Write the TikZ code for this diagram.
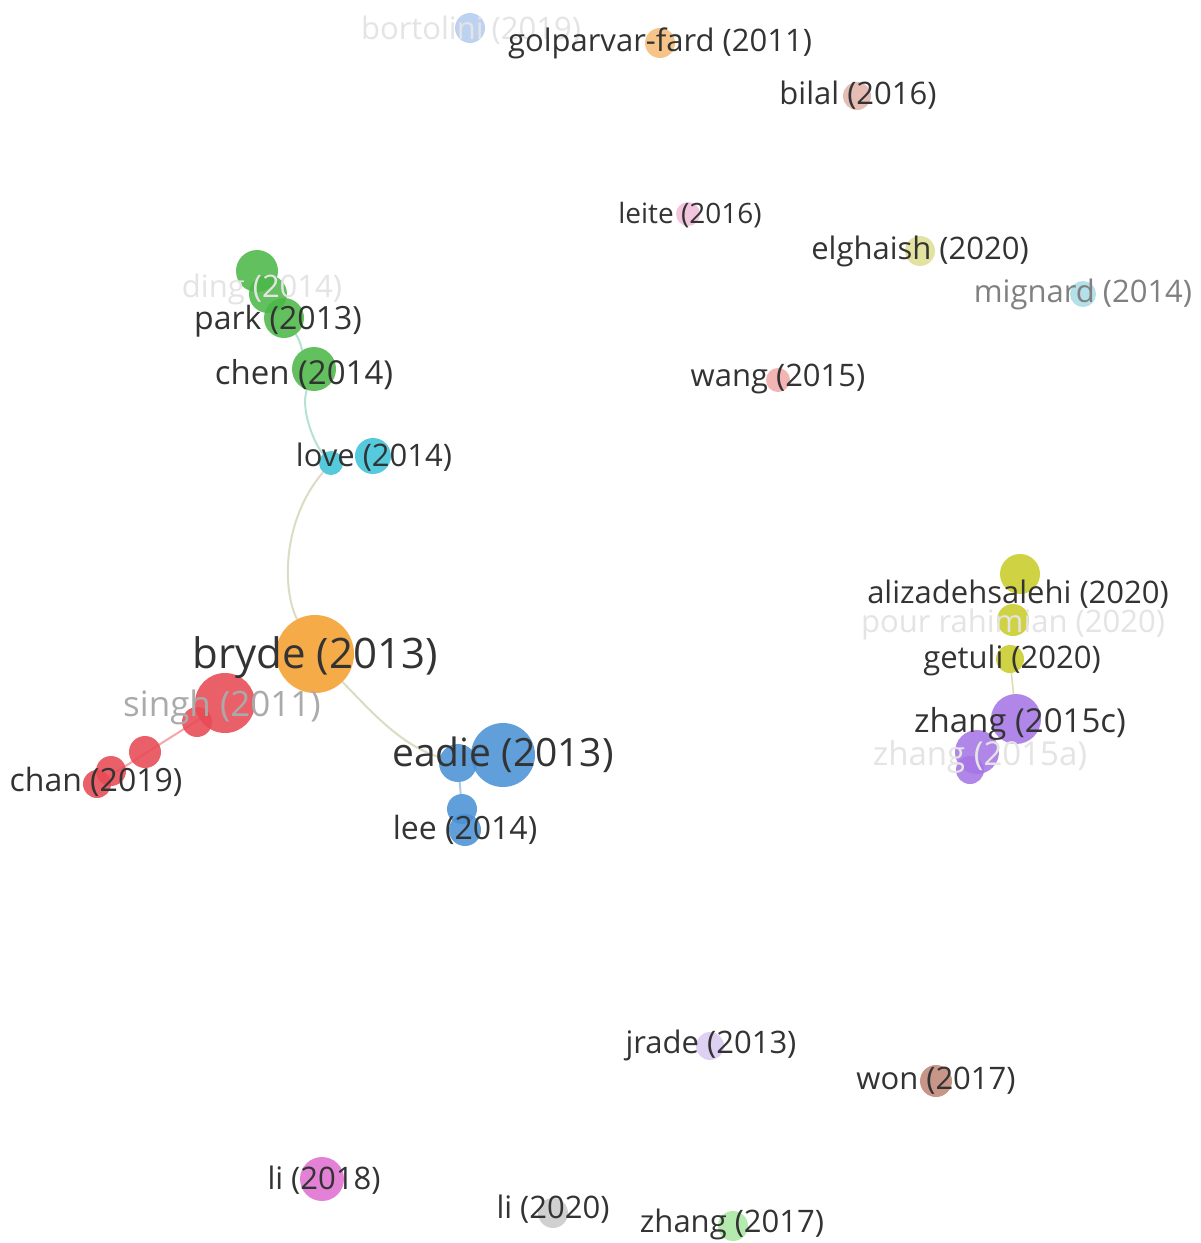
\documentclass[tikz,border=0pt]{standalone}
\usepackage{fontspec}
\setmainfont{Open Sans}
\definecolor{txt}{HTML}{333333}
\definecolor{faint}{HTML}{E4E4E4}
\definecolor{mid}{HTML}{AAAAAA}
\definecolor{cgreen}{HTML}{4DB848}
\definecolor{ccyan}{HTML}{3EC3D8}
\definecolor{corange}{HTML}{F5A030}
\definecolor{cred}{HTML}{E84A55}
\definecolor{cblue}{HTML}{4B92D4}
\definecolor{cyellow}{HTML}{C9CC2A}
\definecolor{cpurple}{HTML}{A676E6}
\definecolor{cbort}{HTML}{B4CCF0}
\definecolor{cgolp}{HTML}{F5BC78}
\definecolor{cbilal}{HTML}{E2B4AA}
\definecolor{cleite}{HTML}{F2BCDA}
\definecolor{celg}{HTML}{E0E094}
\definecolor{cmign}{HTML}{AADCE8}
\definecolor{cwang}{HTML}{F2AAAA}
\definecolor{cjrade}{HTML}{DACAF2}
\definecolor{cwon}{HTML}{C08878}
\definecolor{cli18}{HTML}{E070D2}
\definecolor{cli20}{HTML}{CACACA}
\definecolor{czh17}{HTML}{AAE8A2}
\definecolor{egreen}{HTML}{B5E2D5}
\definecolor{ebeige}{HTML}{DCDCC4}
\definecolor{ered}{HTML}{F4A6A8}
\definecolor{eblue}{HTML}{A8CCEC}
\definecolor{eyel}{HTML}{DCDCB0}
\pgfdeclarelayer{bg}
\pgfsetlayers{bg,main}
\begin{document}
\begin{tikzpicture}[x=1pt,y=-1pt,
  bub/.style={circle,inner sep=0pt,draw=none,fill opacity=0.88},
  lab/.style={inner sep=0pt,text=txt,font=\fontsize{#1}{#1}\selectfont,yshift=-2pt},
  lab/.default=31,
  link/.style={line width=2pt}]
\useasboundingbox (0,0) rectangle (1201,1243);

% ---------- circles ----------
% green cluster
\node[bub,fill=cgreen,minimum size=42] (ding1) at (257,271) {};
\node[bub,fill=cgreen,minimum size=38] (ding2) at (268,294) {};
\node[bub,fill=cgreen,minimum size=40] (park) at (284,318) {};
\node[bub,fill=cgreen,minimum size=44] (chen) at (314,369) {};
% cyan
\node[bub,fill=ccyan,minimum size=24] (love1) at (331,463) {};
\node[bub,fill=ccyan,minimum size=36] (love2) at (373,456) {};
% orange
\node[bub,fill=corange,minimum size=78] (bryde) at (315,654) {};
% red
\node[bub,fill=cred,minimum size=60] (singh) at (225,703) {};
\node[bub,fill=cred,minimum size=30] (r1) at (197,722) {};
\node[bub,fill=cred,minimum size=32] (r2) at (145,752) {};
\node[bub,fill=cred,minimum size=30] (r3) at (111,771) {};
\node[bub,fill=cred,minimum size=28] (chan) at (97,784) {};
% blue
\node[bub,fill=cblue,minimum size=64] (eadie) at (503,755) {};
\node[bub,fill=cblue,minimum size=38] (eadie2) at (458,763) {};
\node[bub,fill=cblue,minimum size=30] (lee1) at (462,809) {};
\node[bub,fill=cblue,minimum size=32] (lee) at (465,830) {};
% yellow
\node[bub,fill=cyellow,minimum size=40] (aliz) at (1020,574) {};
\node[bub,fill=cyellow,minimum size=32] (pour) at (1013,620) {};
\node[bub,fill=cyellow,minimum size=28] (getuli) at (1010,659) {};
% purple
\node[bub,fill=cpurple,minimum size=50] (zh15c) at (1016,719) {};
\node[bub,fill=cpurple,minimum size=44] (zh15a) at (977,752) {};
\node[bub,fill=cpurple,minimum size=28] (zh15a2) at (970,770) {};
% isolated
\node[bub,fill=cbort,minimum size=30] (bort) at (470,28) {};
\node[bub,fill=cgolp,minimum size=30] (golp) at (660,43) {};
\node[bub,fill=cbilal,minimum size=28] (bilal) at (857,96) {};
\node[bub,fill=cleite,minimum size=24] (leite) at (688,214) {};
\node[bub,fill=celg,minimum size=30] (elg) at (920,251) {};
\node[bub,fill=cmign,minimum size=26] (mign) at (1083,294) {};
\node[bub,fill=cwang,minimum size=24] (wang) at (778,380) {};
\node[bub,fill=cjrade,minimum size=28] (jrade) at (710,1046) {};
\node[bub,fill=cwon,minimum size=32] (won) at (936,1081) {};
\node[bub,fill=cli18,minimum size=44] (li18) at (322,1179) {};
\node[bub,fill=cli20,minimum size=30] (li20) at (553,1213) {};
\node[bub,fill=czh17,minimum size=30] (zh17) at (733,1226) {};

% ---------- links (behind circles) ----------
\begin{pgfonlayer}{bg}
\fill[white] (0,0) rectangle (1201,1243);
\draw[link,draw=egreen] (park) .. controls (300,340) and (302,350) .. (chen);
\draw[link,draw=egreen] (chen) .. controls (300,410) and (315,445) .. (love1);
\draw[link,draw=ebeige] (love1) .. controls (282,520) and (282,590) .. (bryde);
\draw[link,draw=ebeige] (bryde) .. controls (370,710) and (400,745) .. (eadie2);
\draw[link,draw=eblue] (eadie2) -- (lee1);
\draw[link,draw=ered] (singh) -- (chan);
\draw[link,draw=eyel,line width=1.5pt] (getuli) -- (zh15c);
\end{pgfonlayer}

% ---------- labels ----------
\node[lab=31,text=faint] (t-ding) at (262,287) {ding (2014)};
\node[lab=32] (t-park) at (278,319) {park (2013)};
\node[lab=33] (t-chen) at (304,373) {chen (2014)};
\node[lab=31] (t-love) at (374,455) {love (2014)};
\node[lab=42] (t-bryde) at (315,656) {bryde (2013)};
\node[lab=35,text=mid] (t-singh) at (222,705) {singh (2011)};
\node[lab=32] (t-chan) at (96,780) {chan (2019)};
\node[lab=39] (t-eadie) at (503,753) {eadie (2013)};
\node[lab=32] (t-lee) at (465,828) {lee (2014)};
\node[lab=31] (t-aliz) at (1018,592) {alizadehsalehi (2020)};
\node[lab=31,text=faint] (t-pour) at (1013,622) {pour rahimian (2020)};
\node[lab=31] (t-getuli) at (1012,658) {getuli (2020)};
\node[lab=33] (t-zh15c) at (1020,722) {zhang (2015c)};
\node[lab=33,text=faint] (t-zh15a) at (980,755) {zhang (2015a)};
\node[lab=31,text=faint] (t-bort) at (471,28) {bortolini (2019)};
\node[lab=31] (t-golp) at (660,41) {golparvar-fard (2011)};
\node[lab=31] (t-bilal) at (858,93) {bilal (2016)};
\node[lab=28] (t-leite) at (690,213) {leite (2016)};
\node[lab=31] (t-elg) at (920,249) {elghaish (2020)};
\node[lab=31,text=gray] (t-mign) at (1083,292) {mignard (2014)};
\node[lab=31] (t-wang) at (778,377) {wang (2015)};
\node[lab=31] (t-jrade) at (711,1043) {jrade (2013)};
\node[lab=31] (t-won) at (936,1079) {won (2017)};
\node[lab=31] (t-li18) at (324,1178) {li (2018)};
\node[lab=31] (t-li20) at (553,1207) {li (2020)};
\node[lab=31] (t-zh17) at (732,1222) {zhang (2017)};
\end{tikzpicture}
\end{document}
